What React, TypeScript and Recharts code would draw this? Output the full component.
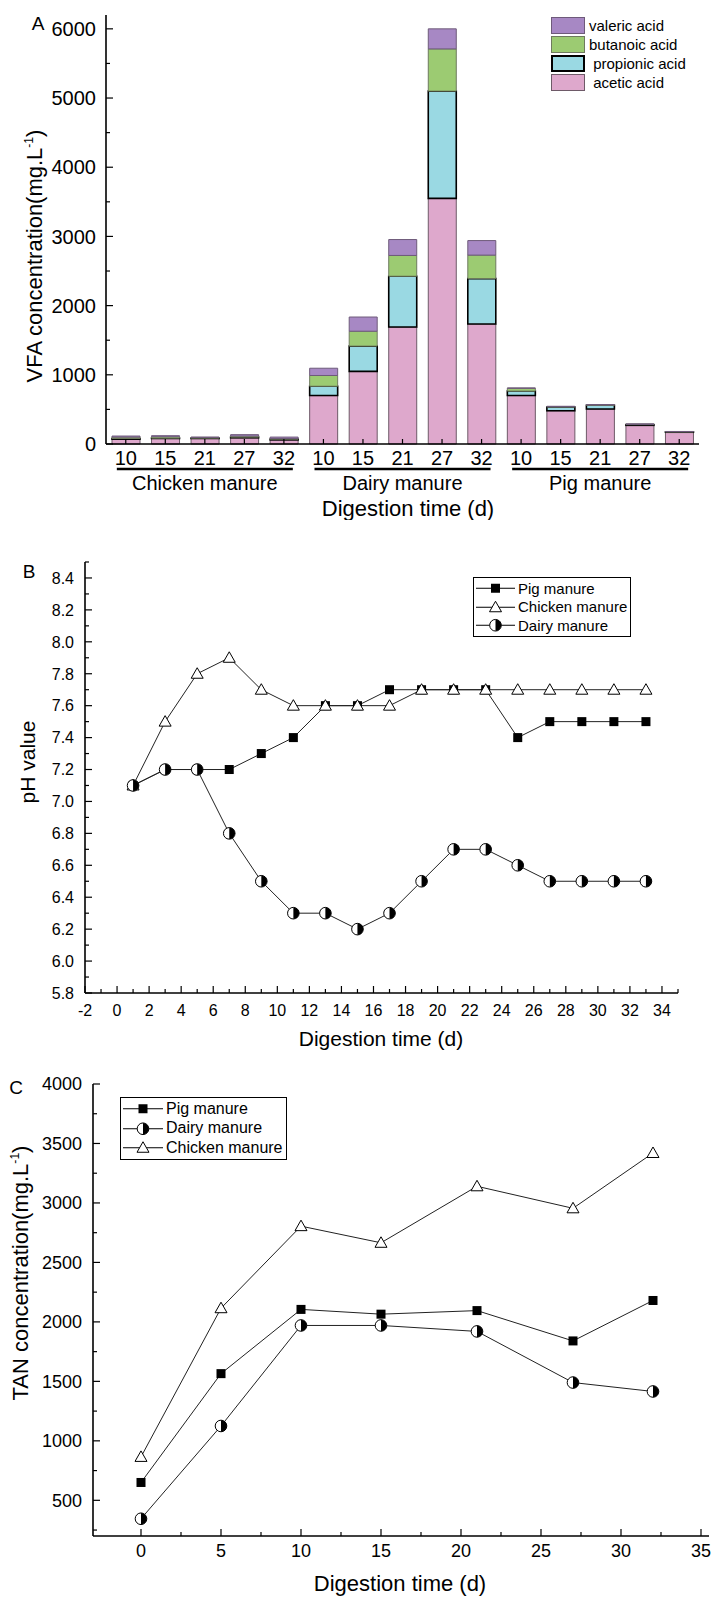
import React from 'react';
import { ComposedChart, BarChart, Bar, Line, XAxis, YAxis, Legend } from 'recharts';

const FONT = "'Liberation Sans', Arial, sans-serif";

// ---- panel A: VFA by manure and day ----
const groups = ['Chicken manure', 'Dairy manure', 'Pig manure'];
const vfaDays = [10, 15, 21, 27, 32];
const acetic = [[70, 80, 80, 90, 60], [700, 1050, 1690, 3550, 1735], [700, 480, 505, 270, 170]];
const propionic = [[10, 5, 5, 10, 10], [135, 365, 735, 1550, 655], [65, 55, 55, 10, 5]];
const butanoic = [[20, 20, 10, 15, 10], [155, 215, 300, 610, 340], [40, 5, 5, 5, 3]];
const valeric = [[15, 15, 5, 20, 20], [105, 205, 230, 290, 210], [5, 5, 5, 5, 3]];
const vfaTicks = [0, 500, 1000, 1500, 2000, 2500, 3000, 3500, 4000, 4500, 5000, 5500, 6000];

// ---- panel B: pH ----
const phDays = [1, 3, 5, 7, 9, 11, 13, 15, 17, 19, 21, 23, 25, 27, 29, 31, 33];
const phPig = [7.1, 7.2, 7.2, 7.2, 7.3, 7.4, 7.6, 7.6, 7.7, 7.7, 7.7, 7.7, 7.4, 7.5, 7.5, 7.5, 7.5];
const phChicken = [7.1, 7.5, 7.8, 7.9, 7.7, 7.6, 7.6, 7.6, 7.6, 7.7, 7.7, 7.7, 7.7, 7.7, 7.7, 7.7, 7.7];
const phDairy = [7.1, 7.2, 7.2, 6.8, 6.5, 6.3, 6.3, 6.2, 6.3, 6.5, 6.7, 6.7, 6.6, 6.5, 6.5, 6.5, 6.5];
const phYTicks = [5.8, 5.9, 6.0, 6.1, 6.2, 6.3, 6.4, 6.5, 6.6, 6.7, 6.8, 6.9, 7.0, 7.1, 7.2, 7.3, 7.4, 7.5, 7.6, 7.7, 7.8, 7.9, 8.0, 8.1, 8.2, 8.3, 8.4, 8.5];
const phXTicks = [-2, -1, 0, 1, 2, 3, 4, 5, 6, 7, 8, 9, 10, 11, 12, 13, 14, 15, 16, 17, 18, 19, 20, 21, 22, 23, 24, 25, 26, 27, 28, 29, 30, 31, 32, 33, 34, 35];

// ---- panel C: TAN ----
const tanDays = [0, 5, 10, 15, 21, 27, 32];
const tanPig = [650, 1565, 2105, 2065, 2095, 1840, 2180];
const tanDairy = [345, 1125, 1970, 1970, 1920, 1490, 1415];
const tanChicken = [865, 2115, 2805, 2665, 3140, 2955, 3420];
const tanYTicks = [250, 500, 750, 1000, 1250, 1500, 1750, 2000, 2250, 2500, 2750, 3000, 3250, 3500, 3750, 4000];
const tanXTicks = [0, 2.5, 5, 7.5, 10, 12.5, 15, 17.5, 20, 22.5, 25, 27.5, 30, 32.5, 35];

const vfaRows = groups.flatMap((g, gi) =>
  vfaDays.map((d, di) => ({
    key: `${g}|${d}`,
    group: g,
    day: d,
    acetic: acetic[gi][di],
    propionic: propionic[gi][di],
    butanoic: butanoic[gi][di],
    valeric: valeric[gi][di],
  }))
);
const phRows = phDays.map((d, i) => ({ day: d, pig: phPig[i], chicken: phChicken[i], dairy: phDairy[i] }));
const tanRows = tanDays.map((d, i) => ({ day: d, pig: tanPig[i], dairy: tanDairy[i], chicken: tanChicken[i] }));

const acids = [
  { key: 'acetic', name: ' acetic acid', fill: '#dea8cc', stroke: '#6e5a68', sw: 1 },
  { key: 'propionic', name: ' propionic acid', fill: '#9ad9e3', stroke: '#000', sw: 1.6 },
  { key: 'butanoic', name: 'butanoic acid', fill: '#9ccb72', stroke: '#6e7a5e', sw: 1 },
  { key: 'valeric', name: 'valeric acid', fill: '#a788c4', stroke: '#6e5a7a', sw: 1 },
];

// y ticks pointing inward, labels only on major values
const makeYTick = (gap: number, isMajor: (v: number) => boolean, fmt: (v: number) => string, fs: number) =>
  (p: any) => {
    const v = p.payload.value;
    const major = isMajor(v);
    const ax = p.x + gap;
    return (
      <g key={`yt-${p.index}`}>
        <line x1={ax} x2={ax + (major ? 7 : 4)} y1={p.y} y2={p.y} stroke="#000" strokeWidth={1.2} />
        {major && (
          <text x={p.x} y={p.y} dy="0.36em" textAnchor="end" fontSize={fs} fontFamily={FONT} fill="#000">
            {fmt(v)}
          </text>
        )}
      </g>
    );
  };

const makeXTick = (gap: number, isMajor: (v: number) => boolean, fmt: (v: number) => string, fs: number, base: number) =>
  (p: any) => {
    const v = p.payload.value;
    const major = isMajor(v);
    const ay = p.y - gap;
    return (
      <g key={`xt-${p.index}`}>
        <line x1={p.x} x2={p.x} y1={ay} y2={ay - (major ? 7 : 4)} stroke="#000" strokeWidth={1.2} />
        {major && (
          <text x={p.x} y={ay + base} textAnchor="middle" fontSize={fs} fontFamily={FONT} fill="#000">
            {fmt(v)}
          </text>
        )}
      </g>
    );
  };

const BarDayTick = (p: any) => {
  const row = vfaRows[p.index];
  if (!row) return <g />;
  const ay = p.y - 4;
  const mid = vfaDays.indexOf(row.day) === 2;
  return (
    <g key={`bt-${p.index}`}>
      <line x1={p.x} x2={p.x} y1={ay} y2={ay - 5} stroke="#000" strokeWidth={1.2} />
      <text x={p.x} y={ay + 21} textAnchor="middle" fontSize={20} fontFamily={FONT} fill="#000">
        {row.day}
      </text>
      {mid && (
        <>
          <line x1={p.x - 88} x2={p.x + 88} y1={ay + 25} y2={ay + 25} stroke="#000" strokeWidth={2.6} />
          <text x={p.x} y={ay + 46} textAnchor="middle" fontSize={20} fontFamily={FONT} fill="#000">
            {row.group}
          </text>
        </>
      )}
    </g>
  );
};

const YTitle = ({ px, cy, text, fs }: any) => (
  <text transform={`translate(${px},${cy}) rotate(-90)`} textAnchor="middle" fontSize={fs} fontFamily={FONT} fill="#000">
    {text}
    <tspan dy={-fs * 0.4} fontSize={fs * 0.55}>-1</tspan>
    <tspan dy={fs * 0.4}>)</tspan>
  </text>
);

const Txt = ({ px, py, text, fs, rotate = false }: any) => (
  <text
    transform={rotate ? `translate(${px},${py}) rotate(-90)` : undefined}
    x={rotate ? undefined : px}
    y={rotate ? undefined : py}
    textAnchor="middle"
    fontSize={fs}
    fontFamily={FONT}
    fill="#000"
  >
    {text}
  </text>
);

const AcidLegend = () => (
  <div style={{ fontFamily: FONT, fontSize: 15, lineHeight: '19px' }}>
    {[...acids].reverse().map((a) => (
      <div key={a.key} style={{ display: 'flex', alignItems: 'center', height: 19, whiteSpace: 'pre' }}>
        <span
          style={{
            display: 'inline-block',
            boxSizing: 'border-box',
            width: 34,
            height: 17,
            background: a.fill,
            border: `${a.key === 'propionic' ? 2 : 1}px solid ${a.stroke}`,
            marginRight: 4,
          }}
        />
        <span>{a.name}</span>
      </div>
    ))}
  </div>
);

const Marker = ({ shape, cx, cy }: any) => {
  if (cx == null || cy == null) return <g />;
  if (shape === 'square') return <rect x={cx - 4.5} y={cy - 4.5} width={9} height={9} fill="#000" />;
  if (shape === 'triangle')
    return (
      <polygon
        points={`${cx},${cy - 6} ${cx - 6},${cy + 4.5} ${cx + 6},${cy + 4.5}`}
        fill="#fff"
        stroke="#000"
        strokeWidth={1}
      />
    );
  const r = 5.8;
  return (
    <g>
      <circle cx={cx} cy={cy} r={r} fill="#fff" stroke="#000" strokeWidth={1} />
      <path d={`M${cx},${cy - r} A${r},${r} 0 0 1 ${cx},${cy + r} Z`} fill="#000" />
    </g>
  );
};

const shapes: Record<string, string> = { pig: 'square', chicken: 'triangle', dairy: 'half' };
const names: Record<string, string> = { pig: 'Pig manure', chicken: 'Chicken manure', dairy: 'Dairy manure' };

const LineLegend = (order: string[], fs: number, rowH: number, sample: number) => () => (
  <div
    style={{
      border: '1px solid #000',
      padding: '1px 3px 1px 2px',
      fontFamily: FONT,
      fontSize: fs,
      background: '#fff',
    }}
  >
    {order.map((k) => (
      <div key={k} style={{ display: 'flex', alignItems: 'center', height: rowH }}>
        <svg width={sample} height={rowH} style={{ marginRight: 3 }}>
          <line x1={0} x2={sample} y1={rowH / 2} y2={rowH / 2} stroke="#000" strokeWidth={1} />
          <Marker shape={shapes[k]} cx={sample / 2} cy={rowH / 2} />
        </svg>
        <span>{names[k]}</span>
      </div>
    ))}
  </div>
);

const frame = { stroke: '#000', strokeWidth: 1.6 };

const ChartA = () => (
  <BarChart width={715} height={520} data={vfaRows} margin={{ top: 15, right: 16, bottom: 0, left: 6 }} barSize={28}>
    <XAxis
      dataKey="key"
      xAxisId="b"
      height={76}
      interval={0}
      tickSize={0}
      tickMargin={4}
      axisLine={frame}
      tick={BarDayTick}
    />
    <XAxis dataKey="key" xAxisId="t" orientation="top" height={0} tick={false} tickLine={false} axisLine={frame} />
    <YAxis
      yAxisId="l"
      width={100}
      domain={[0, 6200]}
      ticks={vfaTicks}
      interval={0}
      tickSize={0}
      tickMargin={10}
      axisLine={frame}
      tick={makeYTick(10, (v) => v % 1000 === 0, (v) => String(v), 20)}
    />
    <YAxis yAxisId="r" orientation="right" width={0} domain={[0, 6200]} tick={false} tickLine={false} axisLine={frame} />
    <Legend
      layout="horizontal"
      verticalAlign="middle"
      align="center"
      wrapperStyle={{ top: 16, left: 551, width: 160 }}
      content={AcidLegend}
    />
    {acids.map((a) => (
      <Bar
        key={a.key}
        dataKey={a.key}
        name={a.name}
        stackId="s"
        xAxisId="b"
        yAxisId="l"
        fill={a.fill}
        stroke={a.stroke}
        strokeWidth={a.sw}
        isAnimationActive={false}
      />
    ))}
  </BarChart>
);

const ChartB = () => (
  <ComposedChart width={715} height={531} data={phRows} margin={{ top: 42, right: 37, bottom: 0, left: 5 }}>
    <XAxis
      type="number"
      dataKey="day"
      xAxisId="b"
      domain={[-2, 35]}
      ticks={phXTicks}
      interval={0}
      height={58}
      tickSize={0}
      tickMargin={4}
      axisLine={frame}
      tick={makeXTick(4, (v) => v % 2 === 0 && v < 35, (v) => String(v), 16, 23)}
    />
    <XAxis type="number" dataKey="day" xAxisId="t" orientation="top" domain={[-2, 35]} height={0} tick={false} tickLine={false} axisLine={frame} />
    <YAxis
      yAxisId="l"
      width={80}
      domain={[5.8, 8.5]}
      ticks={phYTicks}
      interval={0}
      tickSize={0}
      tickMargin={11}
      axisLine={frame}
      tick={makeYTick(11, (v) => Math.round(v * 10) % 2 === 0 && v < 8.45, (v) => v.toFixed(1), 16)}
    />
    <YAxis yAxisId="r" orientation="right" width={0} domain={[5.8, 8.5]} tick={false} tickLine={false} axisLine={frame} />
    <Legend
      layout="horizontal"
      verticalAlign="middle"
      align="center"
      wrapperStyle={{ top: 57, left: 473, width: 'auto' }}
      content={LineLegend(['pig', 'chicken', 'dairy'], 15, 18.5, 39)}
    />
    {['pig', 'chicken', 'dairy'].map((k) => (
      <Line
        key={k}
        dataKey={k}
        xAxisId="b"
        yAxisId="l"
        stroke="#222"
        strokeWidth={1}
        dot={(p: any) => <Marker key={`${k}-${p.index}`} shape={shapes[k]} cx={p.cx} cy={p.cy} />}
        activeDot={false}
        isAnimationActive={false}
      />
    ))}
  </ComposedChart>
);

const ChartC = () => (
  <ComposedChart width={715} height={551} data={tanRows} margin={{ top: 33, right: 6, bottom: 0, left: 5 }}>
    <XAxis
      type="number"
      dataKey="day"
      xAxisId="b"
      domain={[-3, 35.5]}
      ticks={tanXTicks}
      interval={0}
      height={66}
      tickSize={0}
      tickMargin={4}
      axisLine={frame}
      tick={makeXTick(4, (v) => v % 5 === 0, (v) => String(v), 18, 21)}
    />
    <XAxis type="number" dataKey="day" xAxisId="t" orientation="top" domain={[-3, 35.5]} height={0} tick={false} tickLine={false} axisLine={frame} />
    <YAxis
      yAxisId="l"
      width={88}
      domain={[200, 4000]}
      ticks={tanYTicks}
      interval={0}
      tickSize={0}
      tickMargin={11}
      axisLine={frame}
      tick={makeYTick(11, (v) => v % 500 === 0, (v) => String(v), 18)}
    />
    <YAxis yAxisId="r" orientation="right" width={0} domain={[200, 4000]} tick={false} tickLine={false} axisLine={frame} />
    <Legend
      layout="horizontal"
      verticalAlign="middle"
      align="center"
      wrapperStyle={{ top: 46, left: 120, width: 'auto' }}
      content={LineLegend(['pig', 'dairy', 'chicken'], 16, 19.5, 40)}
    />
    {['pig', 'dairy', 'chicken'].map((k) => (
      <Line
        key={k}
        dataKey={k}
        xAxisId="b"
        yAxisId="l"
        stroke="#222"
        strokeWidth={1}
        dot={(p: any) => <Marker key={`${k}-${p.index}`} shape={shapes[k]} cx={p.cx} cy={p.cy} />}
        activeDot={false}
        isAnimationActive={false}
      />
    ))}
  </ComposedChart>
);

const overlay: React.CSSProperties = { position: 'absolute', left: 0, top: 0, pointerEvents: 'none' };

export default function App() {
  return (
    <div style={{ position: 'absolute', left: 0, top: 0, width: 715, height: 1602, background: '#fff', fontFamily: FONT }}>
      <div style={{ position: 'absolute', left: 0, top: 0, width: 715, height: 520 }}>
        <ChartA />
        <svg width={715} height={520} style={overlay}>
          <Txt px={38} py={30} text="A" fs={19} />
          <YTitle px={42} cy={256} text="VFA concentration(mg.L" fs={22} />
          <Txt px={408} py={516} text="Digestion time (d)" fs={22} />
        </svg>
      </div>
      <div style={{ position: 'absolute', left: 0, top: 520, width: 715, height: 531 }}>
        <ChartB />
        <svg width={715} height={531} style={overlay}>
          <Txt px={29} py={58} text="B" fs={19} />
          <Txt px={35} py={242} text="pH value" fs={21} rotate />
          <Txt px={381} py={526} text="Digestion time (d)" fs={21} />
        </svg>
      </div>
      <div style={{ position: 'absolute', left: 0, top: 1051, width: 715, height: 551 }}>
        <ChartC />
        <svg width={715} height={551} style={overlay}>
          <Txt px={16} py={43} text="C" fs={19} />
          <YTitle px={28} cy={222} text="TAN concentration(mg.L" fs={22} />
          <Txt px={400} py={540} text="Digestion time (d)" fs={22} />
        </svg>
      </div>
    </div>
  );
}
